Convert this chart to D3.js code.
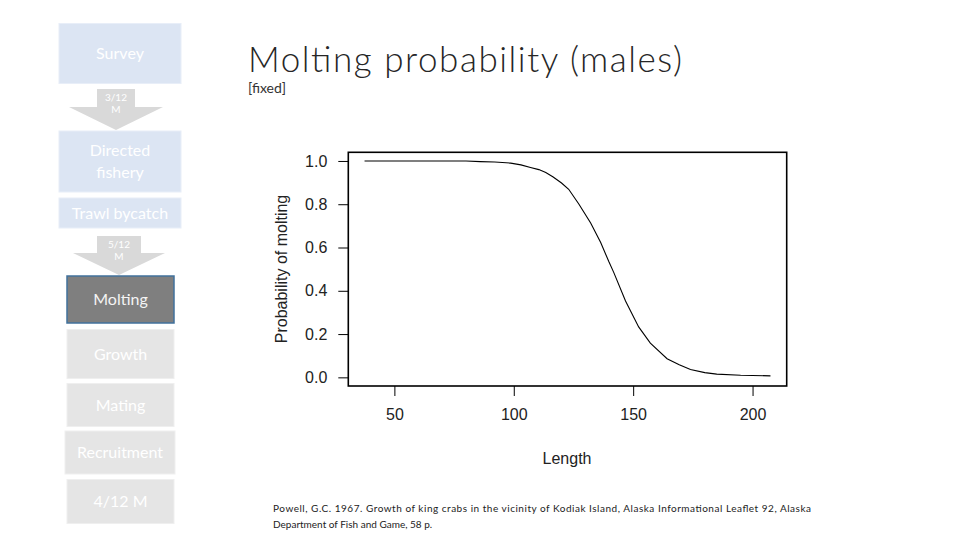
<!DOCTYPE html>
<html>
<head>
<meta charset="utf-8">
<script src="https://cdn.jsdelivr.net/npm/d3@7"></script>
<style>
  html, body { margin: 0; padding: 0; background: #ffffff; }
  svg { display: block; }
</style>
</head>
<body>
<svg id="chart" width="960" height="540"></svg>
<script>
// ---- data ----
const lengths = [37.5, 60, 80, 86, 92, 98.7, 103, 107, 110.5, 113.4, 116.5, 120, 123, 127.3, 132.2, 136.4, 139.8, 141.9, 146.8, 152.3, 157.2, 164.2, 169.3, 174, 180, 185, 195, 207.5];
const probs   = [1.0, 1.0, 1.0, 0.997, 0.995, 0.990, 0.982, 0.970, 0.960, 0.947, 0.926, 0.898, 0.869, 0.800, 0.713, 0.623, 0.535, 0.484, 0.353, 0.233, 0.158, 0.086, 0.058, 0.036, 0.022, 0.015, 0.010, 0.007];
const xTicks = [50, 100, 150, 200];
const yTicks = [0.0, 0.2, 0.4, 0.6, 0.8, 1.0];

const titleText = "Molting probability (males)";
const subtitleText = "[fixed]";
const xLabel = "Length";
const yLabel = "Probability of molting";
const citation = [
  "Powell, G.C. 1967. Growth of king crabs in the vicinity of Kodiak Island, Alaska  Informational Leaflet 92, Alaska",
  "Department of Fish and Game, 58 p."
];

// flow diagram labels
const stepLabels = [["Survey"], ["Directed", "fishery"], ["Trawl bycatch"], ["Molting"], ["Growth"], ["Mating"], ["Recruitment"], ["4/12 M"]];
const arrowLabels = [["3/12", "M"], ["5/12", "M"]];

const svg = d3.select("#chart");

// ---- flow diagram (left) ----
const flowFont = "Lato, 'Open Sans', sans-serif";
const stepLayout = [
  {x: 59, y: 23.5, w: 122, h: 60, fill: "#dce5f3", stroke: "#e8eef8", fs: 16, text: "#ffffff"},
  {x: 59, y: 131, w: 122, h: 61, fill: "#dce5f3", stroke: "#e8eef8", fs: 16, text: "#ffffff"},
  {x: 59, y: 198, w: 122, h: 30, fill: "#dce5f3", stroke: "#e8eef8", fs: 16, text: "#ffffff"},
  {x: 67, y: 276, w: 107, h: 47, fill: "#7f7f7f", stroke: "#41719c", fs: 16, text: "#f4f4f4"},
  {x: 67, y: 329.5, w: 107, h: 49, fill: "#e5e5e5", stroke: "#efefef", fs: 16, text: "#ffffff"},
  {x: 67, y: 383.5, w: 107, h: 43, fill: "#e5e5e5", stroke: "#efefef", fs: 16, text: "#ffffff"},
  {x: 65, y: 431, w: 110, h: 43, fill: "#e5e5e5", stroke: "#efefef", fs: 16, text: "#ffffff"},
  {x: 67, y: 479.5, w: 107, h: 44, fill: "#e5e5e5", stroke: "#efefef", fs: 16, text: "#ffffff"}
];

const flow = svg.append("g");
stepLabels.forEach((lines, i) => {
  const L = stepLayout[i];
  flow.append("rect")
    .attr("x", L.x).attr("y", L.y).attr("width", L.w).attr("height", L.h)
    .attr("fill", L.fill).attr("stroke", L.stroke).attr("stroke-width", i === 3 ? 1.5 : 1);
  const cx = L.x + L.w / 2, cy = L.y + L.h / 2;
  const lh = 22;
  lines.forEach((t, j) => {
    flow.append("text")
      .attr("x", cx)
      .attr("y", cy + (j - (lines.length - 1) / 2) * lh)
      .attr("dy", "0.35em")
      .attr("text-anchor", "middle")
      .attr("font-family", flowFont)
      .attr("font-size", L.fs)
      .attr("fill", L.text)
      .text(t);
  });
});

const arrowLayout = [
  {cx: 116, top: 89, sw: 38, headTop: 107, hw: 94, tip: 130},
  {cx: 119, top: 236, sw: 44, headTop: 253, hw: 92, tip: 275}
];
arrowLabels.forEach((lines, i) => {
  const A = arrowLayout[i];
  const pts = [
    [A.cx - A.sw / 2, A.top], [A.cx + A.sw / 2, A.top], [A.cx + A.sw / 2, A.headTop],
    [A.cx + A.hw / 2, A.headTop], [A.cx, A.tip], [A.cx - A.hw / 2, A.headTop],
    [A.cx - A.sw / 2, A.headTop]
  ];
  flow.append("path")
    .attr("d", d3.line()(pts) + "Z")
    .attr("fill", "#d9d9d9");
  lines.forEach((t, j) => {
    flow.append("text")
      .attr("x", A.cx)
      .attr("y", A.top + 8 + j * 12.5)
      .attr("dy", "0.35em")
      .attr("text-anchor", "middle")
      .attr("font-family", flowFont)
      .attr("font-size", 10)
      .attr("fill", "#ffffff")
      .text(t);
  });
});

// ---- title ----
svg.append("text")
  .attr("x", 248).attr("y", 72)
  .attr("font-family", "Lato, 'Open Sans', sans-serif")
  .attr("font-weight", 300)
  .attr("font-size", 35)
  .attr("fill", "#262626")
  .attr("textLength", 434)
  .text(titleText);
svg.append("text")
  .attr("x", 248).attr("y", 93)
  .attr("font-family", "Lato, 'Open Sans', sans-serif")
  .attr("font-size", 14)
  .attr("fill", "#333333")
  .text(subtitleText);

// ---- plot ----
const box = {left: 348.3, right: 786.7, top: 152.3, bottom: 386};
const xExt = d3.extent(lengths);
const xPad = (xExt[1] - xExt[0]) * 0.04;
const x = d3.scaleLinear().domain([xExt[0] - xPad, xExt[1] + xPad]).range([box.left, box.right]);
const y = d3.scaleLinear().domain([-0.04, 1.04]).range([box.bottom, box.top]);

const axisFont = "'Liberation Sans', Arial, sans-serif";

const gx = svg.append("g").attr("transform", `translate(0,${box.bottom})`)
  .call(d3.axisBottom(x).tickValues(xTicks).tickSize(10).tickPadding(13).tickFormat(d3.format("d")));
const gy = svg.append("g").attr("transform", `translate(${box.left},0)`)
  .call(d3.axisLeft(y).tickValues(yTicks).tickSize(10).tickPadding(11).tickFormat(d3.format(".1f")));
[gx, gy].forEach(g => {
  g.select(".domain").remove();
  g.selectAll(".tick line").attr("stroke", "#000").attr("stroke-width", 1);
  g.selectAll(".tick text").attr("font-family", axisFont).attr("font-size", 16).attr("fill", "#222");
});

svg.append("rect")
  .attr("x", box.left).attr("y", box.top)
  .attr("width", box.right - box.left).attr("height", box.bottom - box.top)
  .attr("fill", "none").attr("stroke", "#000").attr("stroke-width", 1.6);

svg.append("path")
  .datum(lengths.map((d, i) => [d, probs[i]]))
  .attr("fill", "none")
  .attr("stroke", "#000")
  .attr("stroke-width", 1.1)
  .attr("d", d3.line().x(d => x(d[0])).y(d => y(d[1])));

svg.append("text")
  .attr("x", 567).attr("y", 464)
  .attr("text-anchor", "middle")
  .attr("font-family", axisFont).attr("font-size", 16).attr("fill", "#222")
  .text(xLabel);
svg.append("text")
  .attr("transform", "translate(287,269) rotate(-90)")
  .attr("text-anchor", "middle")
  .attr("font-family", axisFont).attr("font-size", 16).attr("fill", "#222")
  .text(yLabel);

// ---- citation ----
citation.forEach((t, i) => {
  const tx = svg.append("text")
    .attr("x", 273).attr("y", 512 + i * 16)
    .attr("font-family", "Lato, 'Open Sans', sans-serif")
    .attr("font-size", 10)
    .attr("fill", "#222")
    .text(t);
  if (i === 0) tx.attr("textLength", 538).attr("lengthAdjust", "spacing");
});
</script>
</body>
</html>
